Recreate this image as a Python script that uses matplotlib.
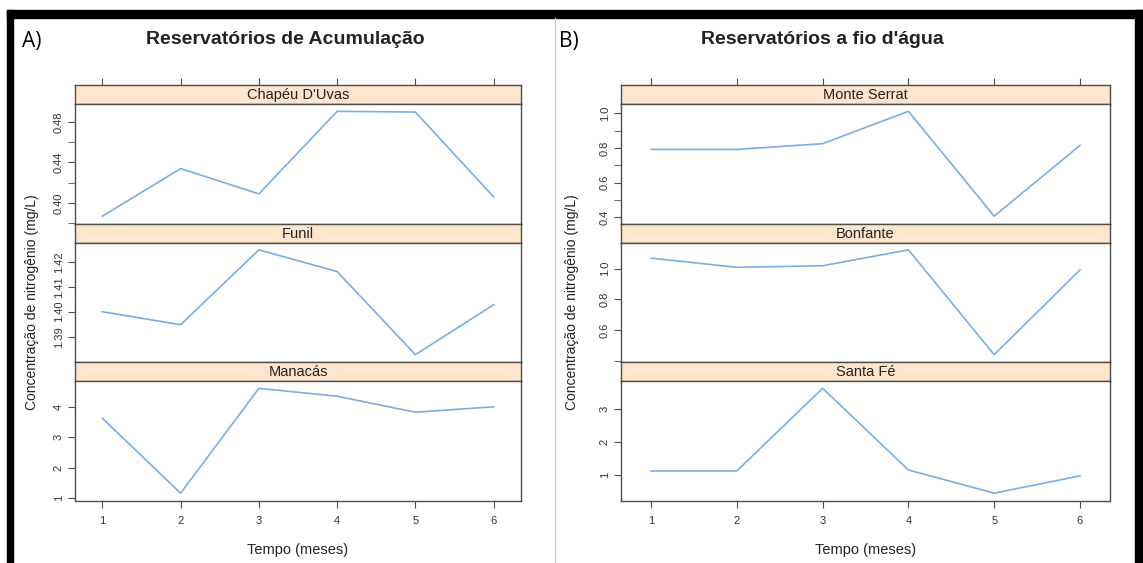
import numpy as np
import matplotlib.pyplot as plt
from matplotlib.patches import Rectangle
from matplotlib.lines import Line2D

W, H = 1143, 563

meses = [1, 2, 3, 4, 5, 6]

# A) reservatorios de acumulacao
nomes_a = ["Chapéu D'Uvas", "Funil", "Manacás"]
chapeu = [0.387, 0.434, 0.409, 0.4905, 0.4898, 0.406]
funil = [1.400, 1.3948, 1.4248, 1.4161, 1.3828, 1.4028]
manacas = [3.63, 1.155, 4.62, 4.36, 3.83, 4.01]

# B) reservatorios a fio d'agua
nomes_b = ["Monte Serrat", "Bonfante", "Santa Fé"]
monte_serrat = [0.792, 0.792, 0.825, 1.012, 0.406, 0.815]
bonfante = [1.069, 1.009, 1.019, 1.123, 0.439, 0.992]
santa_fe = [1.12, 1.12, 3.63, 1.15, 0.445, 0.97]

# ticks com rotulo, seus textos, ticks sem rotulo (estilo lattice)
ticks_a = [([0.40, 0.44, 0.48], ['0.40', '0.44', '0.48'], [0.38, 0.42, 0.46]),
           ([1.39, 1.40, 1.41, 1.42], ['1.39', '1.40', '1.41', '1.42'], []),
           ([1, 2, 3, 4], ['1', '2', '3', '4'], [])]
ticks_b = [([0.4, 0.6, 0.8, 1.0], ['0.4', '0.6', '0.8', '1.0'], [0.5, 0.7, 0.9]),
           ([0.6, 0.8, 1.0], ['0.6', '0.8', '1.0'], [0.4]),
           ([1, 2, 3], ['1', '2', '3'], [])]

linha = '#7aaee0'
strip_cor = '#ffe5cc'
borda = '#4d4d4d'

plt.rcParams['font.family'] = ['Liberation Sans', 'DejaVu Sans']


def box(x0, y0, x1, y1):
    return [x0 / W, 1 - y1 / H, (x1 - x0) / W, (y1 - y0) / H]


def estilo(ax):
    for s in ax.spines.values():
        s.set_color(borda)
        s.set_linewidth(1.0)


def painel(fig, x0, x1, nomes, series, ticks):
    strip_tops = [85, 223.5, 362]
    sh, ph = 19, 119.5
    xlim = (1 - 0.07 * 5, 6 + 0.07 * 5)
    for i, (nome, ys, (maj, rot, mino)) in enumerate(zip(nomes, series, ticks)):
        st = strip_tops[i]
        sax = fig.add_axes(box(x0, st, x1, st + sh))
        sax.set_facecolor(strip_cor)
        sax.set_xlim(xlim)
        sax.set_yticks([])
        estilo(sax)
        sax.text(0.5, 0.45, nome, transform=sax.transAxes, ha='center',
                 va='center', fontsize=10.5, color='#222222')
        if i == 0:
            sax.xaxis.set_ticks_position('top')
            sax.set_xticks(meses)
            sax.tick_params(axis='x', direction='out', length=5,
                            color=borda, labeltop=False)
        else:
            sax.set_xticks([])

        ax = fig.add_axes(box(x0, st + sh, x1, st + sh + ph))
        ax.plot(meses, ys, color=linha, lw=1.2)
        ax.set_xlim(xlim)
        lo, hi = min(ys), max(ys)
        pad = 0.07 * (hi - lo)
        ax.set_ylim(lo - pad, hi + pad)
        ax.set_yticks(maj)
        ax.set_yticklabels(rot)
        ax.set_yticks(mino, minor=True)
        ax.tick_params(axis='y', which='both', direction='out', length=5,
                       color=borda, labelsize=8, labelcolor='#333333',
                       labelrotation=90, pad=3)
        for lb in ax.get_yticklabels():
            lb.set_va('center')
        estilo(ax)
        if i == 2:
            ax.set_xticks(meses)
            ax.tick_params(axis='x', direction='out', length=5, color=borda,
                           labelsize=8, labelcolor='#333333', pad=6)
        else:
            ax.set_xticks([])
    fig.text((x0 + x1) / 2 / W, 1 - 550 / H, 'Tempo (meses)', ha='center',
             va='center', fontsize=10.5, color='#222222')


fig = plt.figure(figsize=(W / 100, H / 100), dpi=100)
fig.patch.set_facecolor('white')

painel(fig, 75, 521, nomes_a, [chapeu, funil, manacas], ticks_a)
painel(fig, 621, 1110, nomes_b, [monte_serrat, bonfante, santa_fe], ticks_b)

ylab = 'Concentração de nitrogênio (mg/L)'
fig.text(32 / W, 1 - 302 / H, ylab, rotation=90, ha='center', va='center',
         fontsize=10, color='#222222')
fig.text(572 / W, 1 - 302 / H, ylab, rotation=90, ha='center', va='center',
         fontsize=10, color='#222222')

fig.text(285 / W, 1 - 40 / H, 'Reservatórios de Acumulação', ha='center',
         va='center', fontsize=14, fontweight='bold', color='#222222')
fig.text(822 / W, 1 - 40 / H, "Reservatórios a fio d'água", ha='center',
         va='center', fontsize=14, fontweight='bold', color='#222222')

fig.text(22 / W, 1 - 41 / H, 'A)', ha='left', va='center', fontsize=15,
         family='Open Sans', color='black')
fig.text(559 / W, 1 - 41 / H, 'B)', ha='left', va='center', fontsize=15,
         family='Open Sans', color='black')

# moldura preta e separador
fig.patches.append(Rectangle((7 / W, 1 - 18 / H), 1 - 7 / W, 8 / H,
                             transform=fig.transFigure, color='black', zorder=0))
fig.patches.append(Rectangle((7 / W, 0), 6 / W, 1 - 10 / H,
                             transform=fig.transFigure, color='black', zorder=0))
fig.patches.append(Rectangle((1135 / W, 0), 8 / W, 1 - 10 / H,
                             transform=fig.transFigure, color='black', zorder=0))
fig.lines.append(Line2D([555 / W, 555 / W], [0, 1 - 18 / H],
                        transform=fig.transFigure, color='#cccccc', lw=1))

fig.savefig('out.png', dpi=100)
